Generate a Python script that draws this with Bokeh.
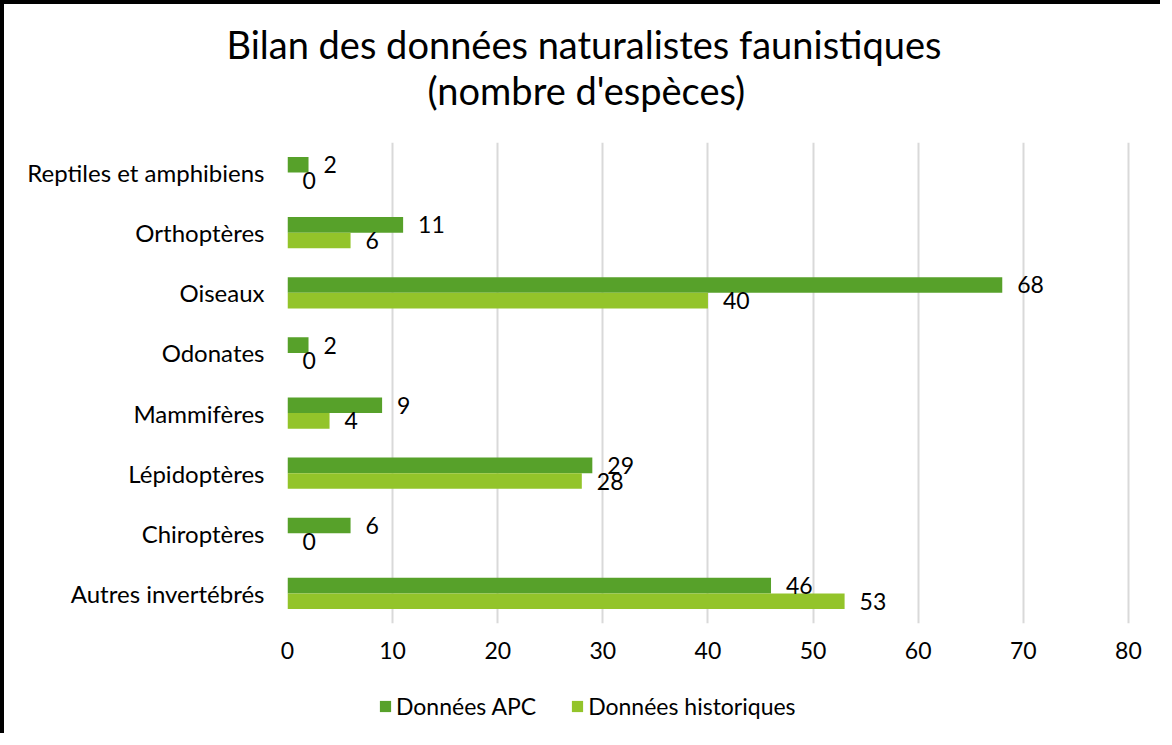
from bokeh.plotting import figure
from bokeh.layouts import column
from bokeh.models import ColumnDataSource, FactorRange, Range1d, Legend, LegendItem, Title, FixedTicker
from bokeh.transform import dodge
from bokeh.embed import file_html
from bokeh.resources import INLINE
from bokeh.core.properties import value

categories = ["Autres invertébrés", "Chiroptères", "Lépidoptères", "Mammifères",
              "Odonates", "Oiseaux", "Orthoptères", "Reptiles et amphibiens"]
apc = [46, 6, 29, 9, 2, 68, 11, 2]
historiques = [53, 0, 28, 4, 0, 40, 6, 0]
x_ticks = [0, 10, 20, 30, 40, 50, 60, 70, 80]
title_lines = ["Bilan des données naturalistes faunistiques", "(nombre d'espèces)"]
series_names = ["Données APC", "Données historiques"]
colors = ["#57A12A", "#93C42A"]

FONT = "Lato"

src = ColumnDataSource(dict(
    cat=categories, apc=apc, hist=historiques,
    apc_lbl=[str(v) for v in apc], hist_lbl=[str(v) for v in historiques],
))

p = figure(width=1160, height=680, output_backend="svg", toolbar_location=None,
           x_range=Range1d(0, 80.2), y_range=FactorRange(factors=categories),
           min_border_left=283, min_border_right=34, min_border_top=138, min_border_bottom=61)
p.styles = {"border-left": "4px solid black", "border-top": "4px solid black"}
p.outline_line_color = None
p.background_fill_color = "white"
p.border_fill_color = "white"

r1 = p.hbar(y=dodge("cat", 0.13, range=p.y_range), right="apc", left=0, height=0.26,
            source=src, fill_color=colors[0], line_color=None)
r2 = p.hbar(y=dodge("cat", -0.13, range=p.y_range), right="hist", left=0, height=0.26,
            source=src, fill_color=colors[1], line_color=None)

p.text(x="apc", y=dodge("cat", 0.13, range=p.y_range), text="apc_lbl", source=src,
       x_offset=15, text_baseline="middle", text_align="left",
       text_font=value(FONT), text_font_size="23px", text_color="black")
p.text(x="hist", y=dodge("cat", -0.13, range=p.y_range), text="hist_lbl", source=src,
       x_offset=15, text_baseline="middle", text_align="left",
       text_font=value(FONT), text_font_size="23px", text_color="black")

p.xaxis.ticker = FixedTicker(ticks=x_ticks)
for ax in (p.xaxis[0], p.yaxis[0]):
    ax.axis_line_color = None
    ax.major_tick_line_color = None
    ax.minor_tick_line_color = None
    ax.major_label_text_font = FONT
    ax.major_label_text_color = "black"
p.xaxis.major_label_text_font_size = "23px"
p.yaxis.major_label_text_font_size = "24px"
p.xaxis.major_label_standoff = 12
p.yaxis.major_label_standoff = 17

p.xgrid.grid_line_color = "#D9D9D9"
p.xgrid.grid_line_width = 2
p.ygrid.grid_line_color = None

spacer = Title(text=" ", text_font_size="1px", standoff=29)
t2 = Title(text=title_lines[1], align="left", offset=140, text_font=FONT, text_font_size="38px",
           text_font_style="normal", text_color="black", standoff=-4)
t1 = Title(text=title_lines[0], align="left", offset=-61, text_font=FONT, text_font_size="38px",
           text_font_style="normal", text_color="black", standoff=0)
p.add_layout(spacer, "above")
p.add_layout(t2, "above")
p.add_layout(t1, "above")

# legend strip below the chart (its swatch renderers have zero height and lie outside the visible range)
lp = figure(width=1160, height=53, output_backend="svg", toolbar_location=None,
            x_range=Range1d(-1000, -999), y_range=FactorRange(factors=categories),
            x_axis_location=None, y_axis_location=None, min_border=0)
lp.styles = {"border-left": "4px solid black"}
lp.outline_line_color = None
lp.xgrid.visible = False
lp.ygrid.visible = False
l1 = lp.hbar(y="cat", right="apc", left=0, height=0, source=src,
             fill_color=colors[0], line_color=None)
l2 = lp.hbar(y="cat", right="hist", left=0, height=0, source=src,
             fill_color=colors[1], line_color=None)
legend = Legend(items=[LegendItem(label=series_names[0], renderers=[l1]),
                       LegendItem(label=series_names[1], renderers=[l2])],
                orientation="horizontal", location=(91, 13),
                glyph_width=14, glyph_height=14, label_standoff=4, spacing=34,
                label_text_font=FONT, label_text_font_size="23px", label_text_color="black",
                border_line_color=None, background_fill_alpha=0, margin=0, padding=0)
lp.add_layout(legend, "center")

layout = column(p, lp, spacing=0)
open("out.html", "w").write(file_html(layout, INLINE))
